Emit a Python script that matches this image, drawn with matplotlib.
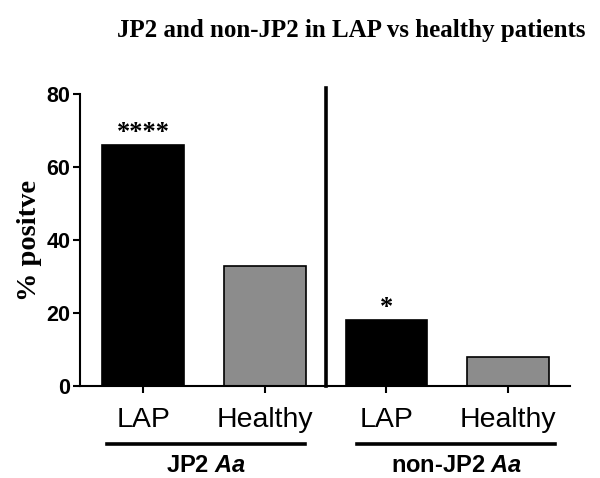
import matplotlib
matplotlib.use("Agg")
import matplotlib.pyplot as plt
import matplotlib.transforms as mtrans

plt.rcParams["mathtext.fontset"] = "custom"
plt.rcParams["mathtext.it"] = "Liberation Sans:bold:italic"
plt.rcParams["mathtext.rm"] = "Liberation Sans:bold"

categories = ["LAP", "Healthy", "LAP", "Healthy"]
values = [66, 33, 18, 8]
colors = ["black", "#8c8c8c", "black", "#8c8c8c"]
stars = ["****", "", "*", ""]
groups = ["JP2 $Aa$", "non-JP2 $Aa$"]

fig = plt.figure(figsize=(6, 4.78), dpi=100)
ax = fig.add_axes([80/600, 1-386/478, 490/600, 292/478])

x = list(range(len(values)))
ax.bar(x, values, width=0.67, color=colors, edgecolor="black", linewidth=1.2)

for xi, v, s in zip(x, values, stars):
    if s:
        ax.text(xi, v + 3.5, s, ha="center", va="center",
                fontsize=19, family="Liberation Serif", fontweight="bold")

# separator between the two groups
ax.plot([1.5, 1.5], [0, 81.6], color="black", lw=2.6, clip_on=False)

ax.set_xlim(-0.52, 3.51)
ax.set_ylim(0, 80)
ax.set_yticks([0, 20, 40, 60, 80])
ax.set_xticks(x)
ax.set_xticklabels(categories, family="Liberation Sans", fontsize=20.5)
for lab in ax.get_yticklabels():
    lab.set_family("Liberation Sans")
    lab.set_fontweight("bold")
    lab.set_fontsize(15.5)

ax.spines["top"].set_visible(False)
ax.spines["right"].set_visible(False)
ax.spines["left"].set_linewidth(1.5)
ax.spines["bottom"].set_linewidth(1.5)
ax.tick_params(axis="y", length=5, width=1.5, pad=2)
ax.tick_params(axis="x", length=5, width=1.5, pad=10)

ax.set_ylabel("% positve", family="Liberation Serif", fontweight="bold",
              fontsize=20.5, labelpad=3)

trans = mtrans.blended_transform_factory(ax.transData, ax.transAxes)
group_spans = [(-0.298, 1.329), (1.76, 3.39)]
for g, (x0, x1) in zip(groups, group_spans):
    ax.plot([x0, x1], [-0.199, -0.199], color="black", lw=2.6,
            transform=trans, clip_on=False)
    ax.text((x0 + x1) / 2, -0.272, g, transform=trans, ha="center",
            va="center", fontsize=17, fontweight="bold",
            family="Liberation Sans")

fig.text(0.586, 0.937, "JP2 and non-JP2 in LAP vs healthy patients",
         ha="center", va="center", family="Liberation Serif",
         fontweight="bold", fontsize=18)

fig.savefig("out.png", dpi=100)
